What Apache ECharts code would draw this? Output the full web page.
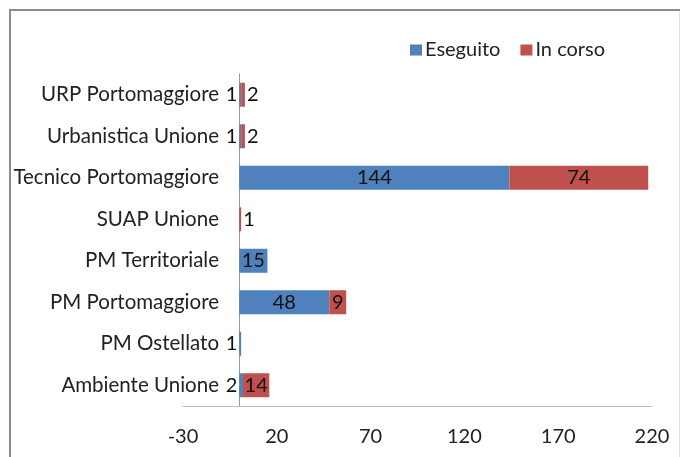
<!DOCTYPE html>
<html>
<head>
<meta charset="utf-8">
<script src="https://cdn.jsdelivr.net/npm/echarts@6/dist/echarts.min.js"></script>
<style>
  html, body { margin: 0; padding: 0; background: #fff; }
  #chart { width: 680px; height: 457px; }
</style>
</head>
<body>
<div id="chart"></div>
<script>
// dati (dal basso verso l'alto)
var uffici = ["Ambiente Unione", "PM Ostellato", "PM Portomaggiore", "PM Territoriale",
    "SUAP Unione", "Tecnico Portomaggiore", "Urbanistica Unione", "URP Portomaggiore"];
var eseguito = [2, 1, 48, 15, 0, 144, 1, 1];
var inCorso = [14, 0, 9, 0, 1, 74, 2, 2];
var tickMin = -30;
var tickMax = 220;
var tickStep = 50;

var FONT = "Lato";
var BLU = "#4F81BD";
var ROSSO = "#C0504D";

// etichette: dentro la barra se c'e' spazio, altrimenti fuori
function datiSerie(valori, lato) {
    var out = [];
    for (var i = 0; i < valori.length; i++) {
        var v = valori[i];
        var item = { value: v };
        if (v === 0) {
            item.label = { show: false };
        } else if (v < 5) {
            item.label = { position: lato, distance: 2 };
        }
        out.push(item);
    }
    return out;
}

var chart = echarts.init(document.getElementById("chart"));
var option = {
    animation: false,
    backgroundColor: "#fff",
    textStyle: { fontFamily: FONT },
    grid: { left: 183, right: 28, top: 74, bottom: 51, containLabel: false, outerBoundsMode: "none" },
    legend: {
        left: 405, top: 35,
        itemWidth: 12, itemHeight: 11, itemGap: 20,
        icon: "rect",
        textStyle: { fontFamily: FONT, fontSize: 20, color: "#222", padding: [0, 0, 0, -2] },
        data: ["Eseguito", "In corso"]
    },
    xAxis: {
        type: "value",
        min: tickMin, max: tickMax, interval: tickStep,
        axisLine: { show: true, lineStyle: { color: "#bfbfbf", width: 1 } },
        axisTick: { show: false },
        splitLine: { show: false },
        axisLabel: { fontFamily: FONT, fontSize: 20, color: "#222", margin: 21 }
    },
    yAxis: {
        type: "category",
        data: uffici,
        axisLine: { show: true, onZero: true, lineStyle: { color: "#999", width: 1 } },
        axisTick: { show: false },
        // le etichette stanno accanto alla linea dello zero, non al bordo della griglia
        axisLabel: { fontFamily: FONT, fontSize: 20.5, color: "#222", margin: -36,
            verticalAlign: "middle", padding: [6, 0, 0, 0] }
    },
    series: [
        {
            name: "Eseguito", type: "bar", stack: "tot",
            barWidth: 24,
            itemStyle: { color: BLU },
            label: { show: true, position: "inside", fontFamily: FONT, fontSize: 20, color: "#111",
                padding: [3, 0, 0, 0] },
            data: datiSerie(eseguito, "left")
        },
        {
            name: "In corso", type: "bar", stack: "tot",
            barWidth: 24,
            itemStyle: { color: ROSSO },
            label: { show: true, position: "inside", fontFamily: FONT, fontSize: 20, color: "#111",
                padding: [3, 0, 0, 0] },
            data: datiSerie(inCorso, "right")
        }
    ],
    graphic: [
        { type: "rect", silent: true, shape: { x: 10, y: 10, width: 700, height: 470 },
          style: { fill: null, stroke: "#8c8c8c", lineWidth: 2 } },
        { type: "line", silent: true, shape: { x1: 679.5, y1: 11, x2: 679.5, y2: 457 },
          style: { stroke: "#e0e0e0", lineWidth: 1 } }
    ]
};
chart.setOption(option);
</script>
</body>
</html>
